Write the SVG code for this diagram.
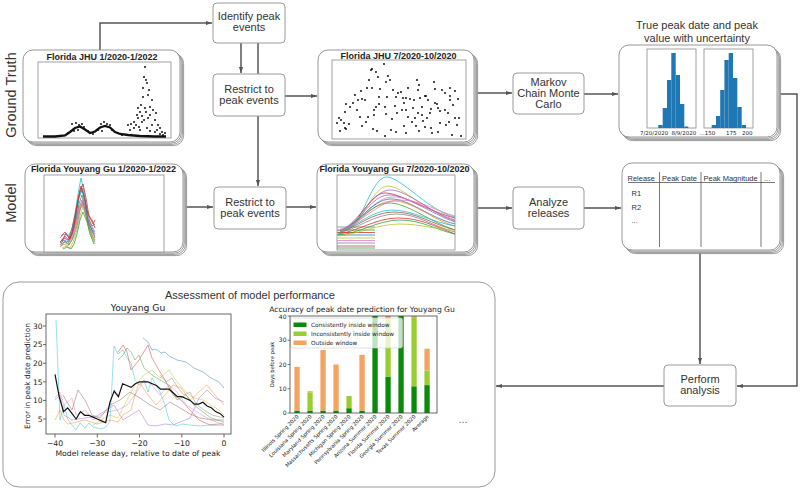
<svg xmlns="http://www.w3.org/2000/svg" width="800" height="490" viewBox="0 0 800 490">
<style>
.box{fill:#fff;stroke:#9a9a9a;stroke-width:1}
.card{fill:#fff;stroke:#8c8c8c;stroke-width:0.9}
.frame{fill:#fff;stroke:#8a8a8a;stroke-width:0.8}
.lbl{font-family:'Liberation Sans',Arial,sans-serif;font-size:11px;fill:#333;text-anchor:middle}
.side{font-family:'Liberation Sans',Arial,sans-serif;font-size:14.5px;fill:#333;text-anchor:middle}
.ttl{font-family:'Liberation Sans',Arial,sans-serif;font-size:9px;font-weight:bold;fill:#222;text-anchor:middle}
.tab{font-family:'Liberation Sans',Arial,sans-serif;font-size:7.5px;fill:#333}
.conn{fill:none;stroke:#555;stroke-width:1.5}
.arr{marker-end:url(#ah)}
.mpl{font-family:'DejaVu Sans',sans-serif;fill:#222}
.ax{fill:none;stroke:#444;stroke-width:0.8}
.dots{fill:none;stroke:#111;stroke-width:2;stroke-linecap:round}
.cl{fill:none;stroke-width:0.9;opacity:0.5}
.mc{fill:none;stroke-width:0.9;opacity:0.85}
.hb{fill:#1f77b4}
.dg{fill:#0a8a0a}
.lg{fill:#9acd32}
.og{fill:#f4a460}
</style>
<defs>
<marker id="ah" viewBox="0 0 10 10" refX="10" refY="5" markerWidth="6" markerHeight="6" markerUnits="userSpaceOnUse" orient="auto"><path d="M0,1.5 L10,5 L0,8.5 z" fill="#555"/></marker>
</defs>

<g id="connectors">
<path class="conn arr" d="M100,50 V23 H212"/>
<path class="conn arr" d="M241,43 V73"/>
<path class="conn arr" d="M258,43 V186"/>
<path class="conn arr" d="M285,96 H317"/>
<path class="conn arr" d="M474,93 H512"/>
<path class="conn arr" d="M584,94 H618"/>
<path class="conn arr" d="M777,94 H797 V386 H737"/>
<path class="conn arr" d="M183,207 H213"/>
<path class="conn arr" d="M286,207 H316"/>
<path class="conn arr" d="M474,208 H512"/>
<path class="conn arr" d="M584,208 H621"/>
<path class="conn arr" d="M700,252 V364"/>
<path class="conn arr" d="M664,386 H496"/>
</g>

<g id="label-ground-truth"><text class="side" transform="translate(16,95) rotate(-90)">Ground Truth</text></g>
<g id="label-model"><text class="side" transform="translate(16,203) rotate(-90)">Model</text></g>

<g id="identify">
<rect class="box" x="213" y="3" width="72" height="40" rx="4"/>
<text class="lbl" x="249" y="20">Identify peak</text>
<text class="lbl" x="249" y="31">events</text>
</g>

<g id="restrict-gt">
<rect class="box" x="213" y="74" width="72" height="42" rx="4"/>
<text class="lbl" x="249" y="92.5">Restrict to</text>
<text class="lbl" x="249" y="103.5">peak events</text>
</g>

<g id="restrict-model">
<rect class="box" x="214" y="187" width="72" height="42" rx="4"/>
<text class="lbl" x="250" y="205.5">Restrict to</text>
<text class="lbl" x="250" y="216.5">peak events</text>
</g>

<g id="mcmc">
<rect class="box" x="513" y="73" width="71" height="41" rx="4"/>
<text class="lbl" x="548.5" y="86">Markov</text>
<text class="lbl" x="548.5" y="97">Chain Monte</text>
<text class="lbl" x="548.5" y="108">Carlo</text>
</g>

<g id="analyze">
<rect class="box" x="513" y="187" width="71" height="42" rx="4"/>
<text class="lbl" x="548.5" y="205.5">Analyze</text>
<text class="lbl" x="548.5" y="216.5">releases</text>
</g>

<g id="perform">
<rect class="box" x="664" y="365" width="72" height="41" rx="4"/>
<text class="lbl" x="700" y="382.5">Perform</text>
<text class="lbl" x="700" y="393.5">analysis</text>
</g>

<g id="jhu-full">
<rect class="card" x="26.6" y="53.6" width="157" height="92" rx="10"/>
<rect class="card" x="25.4" y="52.4" width="157" height="92" rx="10"/>
<rect class="card" x="24.2" y="51.2" width="157" height="92" rx="10"/>
<rect class="card" x="23" y="50" width="157" height="92" rx="10"/>
<text class="ttl" x="102" y="60">Florida JHU 1/2020-1/2022</text>
<rect class="frame" x="38" y="62" width="133" height="76"/>
<polyline fill="none" stroke="#111" stroke-width="2.3" points="43,136.5 55,136.5 65,135.5 70,132 75,128 80,126.5 85,129.5 90,133 95,131.5 100,127.5 105,126 110,127.5 115,132 120,134 128,135 140,136 155,136.5 166,136.5"/>
<path class="dots" d="M72,124h0M76,123h0M79,125h0M82,124h0M84,127h0M78,130h0M74,131h0M88,131h0M101,124h0M104,122h0M107,124h0M110,125h0M98,130h0M112,130h0M102,131h0M68,133h0M93,134h0M118,133h0M122,135h0M128,125h0M131,124h0M134,122h0M130,130h0M136,125h0M145,67h0M144,77h0M146,80h0M147,83h0M143,97h0M148,95h0M141,105h0M145,108h0M150,107h0M153,110h0M140,112h0M146,112h0M142,116h0M148,118h0M150,115h0M155,120h0M138,118h0M134,128h0M152,125h0M158,125h0M160,128h0M147,128h0M150,131h0M155,132h0M162,132h0M163,135h0M140,130h0M142,122h0M144,120h0M138,108h0M152,100h0M149,90h0M143,88h0M137,115h0M156,113h0M139,127h0M157,130h0M165,133h0M160,134h0"/>
</g>

<g id="jhu-peak">
<rect class="card" x="321.6" y="53.6" width="156" height="92" rx="10"/>
<rect class="card" x="320.4" y="52.4" width="156" height="92" rx="10"/>
<rect class="card" x="319.2" y="51.2" width="156" height="92" rx="10"/>
<rect class="card" x="318" y="50" width="156" height="92" rx="10"/>
<text class="ttl" x="398.5" y="59">Florida JHU 7/2020-10/2020</text>
<rect class="frame" x="332" y="60" width="134" height="79"/>
<path class="dots" d="M371,70h0M372,69h0M384,64h0M376,72h0M378,77h0M388,76h0M390,80h0M369,80h0M367,88h0M361,91h0M372,88h0M380,89h0M386,82h0M393,90h0M355,95h0M358,100h0M362,99h0M365,100h0M346,104h0M353,103h0M350,107h0M345,112h0M357,110h0M379,104h0M379,97h0M387,97h0M396,97h0M401,92h0M408,88h0M410,99h0M404,103h0M406,98h0M417,80h0M419,85h0M418,90h0M426,96h0M428,100h0M422,107h0M434,82h0M435,89h0M442,90h0M445,93h0M450,96h0M455,91h0M458,99h0M450,100h0M453,105h0M437,104h0M438,108h0M440,111h0M431,109h0M418,113h0M415,118h0M406,110h0M402,110h0M395,106h0M397,113h0M392,119h0M386,114h0M385,107h0M376,107h0M374,110h0M368,117h0M366,122h0M374,115h0M408,117h0M412,122h0M416,126h0M423,121h0M425,127h0M431,128h0M432,133h0M438,132h0M446,125h0M449,122h0M455,118h0M457,125h0M452,135h0M440,123h0M422,115h0M427,118h0M360,117h0M339,118h0M341,120h0M337,123h0M344,123h0M345,128h0M349,124h0M340,131h0M362,126h0M346,129h0M404,126h0M419,131h0M406,133h0M391,130h0M396,132h0M385,136h0M377,131h0M373,129h0M414,100h0M398,93h0M403,98h0M425,96h0M420,98h0M435,103h0M445,110h0M448,113h0M413,108h0M430,113h0M461,136h0M459,118h0M450,88h0"/>
</g>

<g id="peak-dist">
<text class="lbl" x="697" y="29">True peak date and peak</text>
<text class="lbl" x="697" y="42">value with uncertainty</text>
<rect class="card" x="622.6" y="48.6" width="158" height="92" rx="10"/>
<rect class="card" x="621.4" y="47.4" width="158" height="92" rx="10"/>
<rect class="card" x="620.2" y="46.2" width="158" height="92" rx="10"/>
<rect class="card" x="619" y="45" width="158" height="92" rx="10"/>
<rect class="frame" x="647" y="49" width="49" height="79"/>
<rect class="frame" x="704" y="49" width="49" height="79"/>
<rect class="hb" x="658.3" y="125" width="4.4" height="3"/>
<rect class="hb" x="662.7" y="108" width="4.3" height="20"/>
<rect class="hb" x="667" y="80" width="4.3" height="48"/>
<rect class="hb" x="671.3" y="53" width="4.4" height="75"/>
<rect class="hb" x="675.7" y="75" width="4.3" height="53"/>
<rect class="hb" x="680" y="104" width="4.3" height="24"/>
<rect class="hb" x="684.3" y="126.5" width="4" height="1.5"/>
<rect class="hb" x="711.7" y="125" width="4.3" height="3"/>
<rect class="hb" x="716" y="116" width="4.2" height="12"/>
<rect class="hb" x="720.2" y="90" width="4.2" height="38"/>
<rect class="hb" x="724.4" y="60" width="4.3" height="68"/>
<rect class="hb" x="728.7" y="53" width="4.3" height="75"/>
<rect class="hb" x="733" y="78" width="4.3" height="50"/>
<rect class="hb" x="737.3" y="107" width="4.4" height="21"/>
<rect class="hb" x="741.7" y="125" width="4.3" height="3"/>
<g class="mpl" font-size="5.5">
<text x="640" y="134.5">7/20/2020</text>
<text x="671.5" y="134.5">8/9/2020</text>
<text x="699.5" y="134.5">...150</text>
<text x="726" y="134.5">175</text>
<text x="742" y="134.5">200</text>
</g>
</g>

<g id="yy-full">
<rect class="card" x="28.6" y="167.6" width="158" height="88" rx="10"/>
<rect class="card" x="27.4" y="166.4" width="158" height="88" rx="10"/>
<rect class="card" x="26.2" y="165.2" width="158" height="88" rx="10"/>
<rect class="card" x="25" y="164" width="158" height="88" rx="10"/>
<text class="ttl" x="103.5" y="171.5">Florida Youyang Gu 1/2020-1/2022</text>
<rect class="frame" x="44" y="175" width="120" height="77"/>
<path class="mc" stroke="#17becf" d="M60,238 L64,234 L68,236 L72,230 L75,214 L78,194 L81,178 L84,192 L87,210 L90,222 L94,232"/>
<path class="mc" stroke="#d62728" d="M60,242 L64,238 L68,240 L72,232 L75,218 L78,200 L81,186 L84,196 L88,214 L92,220 L95,228"/>
<path class="mc" stroke="#8c564b" d="M61,236 L65,232 L69,238 L72,228 L76,210 L79,195 L82,188 L85,200 L88,218 L92,226 L95,224"/>
<path class="mc" stroke="#2ca02c" d="M60,245 L64,242 L68,244 L72,236 L76,220 L79,204 L82,195 L85,206 L88,220 L92,230 L95,238"/>
<path class="mc" stroke="#9467bd" d="M61,244 L65,236 L69,240 L73,232 L76,222 L79,208 L82,200 L86,212 L89,226 L92,232 L95,236"/>
<path class="mc" stroke="#ff7f0e" d="M60,247 L64,244 L68,246 L72,240 L76,226 L79,212 L82,204 L86,216 L89,228 L93,236 L95,240"/>
<path class="mc" stroke="#e377c2" d="M61,240 L65,237 L69,242 L73,236 L76,224 L79,210 L83,198 L86,210 L89,222 L93,228 L95,232"/>
<path class="mc" stroke="#bcbd22" d="M62,248 L66,246 L70,248 L73,242 L77,230 L80,216 L83,206 L86,214 L89,230 L93,240 L95,244"/>
<path class="mc" stroke="#1f77b4" d="M60,243 L64,240 L68,242 L72,234 L76,216 L79,198 L82,190 L85,202 L88,222 L92,230 L95,234"/>
<path class="mc" stroke="#7f7f7f" d="M61,246 L65,241 L69,245 L73,238 L77,226 L80,210 L83,202 L86,216 L90,230 L93,238 L95,242"/>
<path class="mc" stroke="#2ca02c" d="M63,249 L67,247 L71,249 L74,244 L77,234 L80,220 L83,212 L87,222 L90,234 L94,244"/>
<path class="mc" stroke="#d62728" d="M62,241 L66,233 L70,239 L74,226 L77,206 L80,190 L83,184 L86,198 L89,216 L93,224 L95,220"/>
</g>

<g id="yy-peak">
<rect class="card" x="320.6" y="167.6" width="157" height="88" rx="10"/>
<rect class="card" x="319.4" y="166.4" width="157" height="88" rx="10"/>
<rect class="card" x="318.2" y="165.2" width="157" height="88" rx="10"/>
<rect class="card" x="317" y="164" width="157" height="88" rx="10"/>
<text class="ttl" x="394.5" y="171.5">Florida Youyang Gu 7/2020-10/2020</text>
<rect class="frame" x="337" y="175" width="118" height="75"/>
<path class="mc" stroke="#7f7f7f" d="M337,227 H375"/>
<path class="mc" stroke="#2ca02c" d="M337,230 H375"/>
<path class="mc" stroke="#d62728" d="M337,232.5 H375"/>
<path class="mc" stroke="#1f77b4" d="M337,235 H375"/>
<path class="mc" stroke="#bcbd22" d="M337,238 H375"/>
<path class="mc" stroke="#e377c2" d="M337,240.5 H375"/>
<path class="mc" stroke="#9467bd" d="M337,243 H375"/>
<path class="mc" stroke="#8c564b" d="M337,246 H375"/>
<path class="mc" stroke="#2ca02c" d="M337,248 H375"/>
<path class="mc" stroke="#17becf" stroke-width="1.3" d="M350,228 C362,222 372,178 386,177 S430,212 455,217"/>
<path class="mc" stroke="#bcbd22" stroke-width="1.3" d="M352,226 C364,218 374,186 388,186 S430,214 455,220"/>
<path class="mc" stroke="#d62728" d="M345,228 C360,222 370,194 384,193 S430,212 455,218"/>
<path class="mc" stroke="#9467bd" d="M347,229 C360,220 372,196 388,195 S432,214 455,222"/>
<path class="mc" stroke="#e377c2" d="M349,227 C362,220 374,198 392,197 S432,212 455,220"/>
<path class="mc" stroke="#1f77b4" d="M343,229 C358,224 372,200 390,199 S430,218 455,224"/>
<path class="mc" stroke="#ff7f0e" d="M345,230 C360,224 372,202 392,201 S432,220 455,226"/>
<path class="mc" stroke="#2ca02c" d="M340,231 C356,226 370,204 388,203 S430,222 455,230"/>
<path class="mc" stroke="#17becf" d="M342,230 C358,226 372,210 392,210 S432,222 455,226"/>
<path class="mc" stroke="#8c564b" d="M340,232 C356,228 372,212 394,212 S432,224 455,230"/>
<path class="mc" stroke="#7f7f7f" d="M338,233 C356,230 374,214 396,214 S432,226 455,232"/>
<path class="mc" stroke="#d62728" d="M338,234 C356,232 376,218 398,218 S434,226 455,234"/>
<path class="mc" stroke="#2ca02c" d="M338,235 C358,234 378,220 400,220 S436,230 455,234"/>
<path class="mc" stroke="#bcbd22" d="M339,236 C358,234 378,224 400,224 S436,230 455,230"/>
<path class="mc" stroke="#9467bd" d="M338,231 C356,228 372,190 390,190 S432,214 455,221"/>
<path class="mc" stroke="#e377c2" d="M340,229 C360,226 378,200 400,200 S438,212 455,216"/>
</g>

<g id="release-table">
<rect class="card" x="625.6" y="166.6" width="158" height="87" rx="10"/>
<rect class="card" x="624.4" y="165.4" width="158" height="87" rx="10"/>
<rect class="card" x="623.2" y="164.2" width="158" height="87" rx="10"/>
<rect class="card" x="622" y="163" width="158" height="87" rx="10"/>
<text class="tab" x="627.5" y="180.5">Release</text>
<text class="tab" x="662" y="180.5">Peak Date</text>
<text class="tab" x="703.5" y="180.5">Peak Magnitude</text>
<text class="tab" x="764" y="180.5" fill="#888">...</text>
<line x1="628" y1="182.5" x2="775" y2="182.5" stroke="#555" stroke-width="0.8"/>
<line x1="659.5" y1="172" x2="659.5" y2="247" stroke="#555" stroke-width="0.8"/>
<line x1="701" y1="172" x2="701" y2="247" stroke="#555" stroke-width="0.8"/>
<line x1="761" y1="172" x2="761" y2="247" stroke="#555" stroke-width="0.8"/>
<text class="tab" x="631.5" y="195.5">R1</text>
<text class="tab" x="631.5" y="209.5">R2</text>
<text class="tab" x="631.5" y="223" fill="#888">...</text>
</g>

<g id="assessment">
<rect class="box" x="3" y="282" width="492" height="205" rx="16"/>
<text class="lbl" x="250" y="299">Assessment of model performance</text>

<g id="line-chart">
<text class="mpl" font-size="9.2" x="138" y="311" text-anchor="middle">Youyang Gu</text>
<rect class="ax" x="46" y="314" width="185" height="120" fill="#fff"/>
<g stroke="#444" stroke-width="0.8">
<line x1="55" y1="434" x2="55" y2="437.5"/><line x1="97.3" y1="434" x2="97.3" y2="437.5"/><line x1="139.5" y1="434" x2="139.5" y2="437.5"/><line x1="181.8" y1="434" x2="181.8" y2="437.5"/><line x1="224" y1="434" x2="224" y2="437.5"/>
<line x1="43" y1="419" x2="46" y2="419"/><line x1="43" y1="400.4" x2="46" y2="400.4"/><line x1="43" y1="381.8" x2="46" y2="381.8"/><line x1="43" y1="363.2" x2="46" y2="363.2"/><line x1="43" y1="344.6" x2="46" y2="344.6"/><line x1="43" y1="326" x2="46" y2="326"/>
</g>
<g class="mpl" font-size="7.7" text-anchor="middle">
<text x="55" y="445.5">−40</text><text x="97.3" y="445.5">−30</text><text x="139.5" y="445.5">−20</text><text x="181.8" y="445.5">−10</text><text x="224" y="445.5">0</text>
</g>
<g class="mpl" font-size="7.5" text-anchor="end">
<text x="42.5" y="421.7">5</text><text x="42.5" y="403.1">10</text><text x="42.5" y="384.5">15</text><text x="42.5" y="365.9">20</text><text x="42.5" y="347.3">25</text><text x="42.5" y="328.7">30</text>
</g>
<text class="mpl" font-size="7.7" x="138" y="456" text-anchor="middle">Model release day, relative to date of peak</text>
<text class="mpl" font-size="7.4" text-anchor="middle" transform="translate(29.5,376) rotate(-90)">Error in peak date prediction</text>
<polyline class="cl" stroke="#17becf" points="56,320 60,420 64,405 68,420 72,425 76,430 80,423 85,428 89,423 93,427 97,428 101,429 106,427 110,421 114,346 118,354 123,350 127,358 131,363 135,380 139,385 144,380 148,392 152,378 156,385 160,392 165,405 169,420 173,424 177,426 182,424 190,425 200,426 210,425 224,423"/>
<polyline class="cl" stroke="#1f77b4" points="143,338 148,342 152,350 156,349 161,353 165,352 169,356 177,360 186,362 194,368 203,372 211,378 219,382 224,388"/>
<polyline class="cl" stroke="#d62728" points="118,352 123,345 127,352 131,370 139,360 148,345 152,358 160,372 165,380 173,395 181,400 190,410 199,420 210,425 224,425"/>
<polyline class="cl" stroke="#2ca02c" points="118,360 123,355 127,348 131,352 135,360 139,355 144,368 152,375 160,380 169,385 177,400 186,395 194,405 203,412 211,418 224,422"/>
<polyline class="cl" stroke="#ff7f0e" points="55,420 60,410 64,420 68,424 85,420 97,424 110,420 118,422 123,415 131,410 135,395 139,382 148,395 156,405 165,395 173,385 181,388 190,400 199,392 207,385 215,395 224,405"/>
<polyline class="cl" stroke="#9467bd" points="55,400 60,395 64,415 72,420 85,418 97,416 114,405 123,420 131,415 139,410 148,425 156,426 165,424 173,425 190,418 199,398 207,390 215,398 224,402"/>
<polyline class="cl" stroke="#e377c2" points="55,398 60,392 64,405 72,398 76,415 85,410 93,420 106,412 118,410 127,405 135,395 144,380 152,385 160,395 169,385 177,392 186,405 194,410 207,418 224,425"/>
<polyline class="cl" stroke="#bcbd22" points="93,425 101,420 110,415 118,418 127,400 135,385 144,375 152,370 160,378 169,370 177,382 186,392 194,398 203,400 211,405 219,410 224,415"/>
<polyline class="cl" stroke="#8c564b" points="63,395 67,402 72,410 78,390 85,400 92,415 100,418 110,405 120,400 130,392 140,398 150,405 160,410 170,402 180,408 190,414 200,418 212,420 224,420"/>
<polyline class="cl" stroke="#7f7f7f" points="160,375 166,382 172,378 178,388 184,395 190,392 196,404 204,410 212,415 224,418"/>
<polyline fill="none" stroke="#111" stroke-width="1.2" points="55,374.4 59.2,396.7 63.5,411.6 67.7,407.8 71.9,413.4 76.1,419 80.4,411.6 84.6,415.3 88.8,415.3 93,417.1 97.3,419 101.5,420.9 105.7,422.7 109.9,402.3 114.2,391.1 118.4,396.7 122.6,383.7 126.8,385.5 131.1,387.4 135.3,383.7 139.5,381.8 143.7,381.8 148,381.8 152.2,383.7 156.4,385.5 160.6,389.2 164.9,389.2 169.1,389.2 173.3,393 177.5,396.7 181.8,396.7 186,398.5 190.2,400.4 194.4,404.1 198.7,404.1 202.9,402.3 207.1,406 211.3,407.8 215.6,411.6 219.8,413.4 224,417.1"/>
</g>

<g id="bar-chart">
<text class="mpl" font-size="7.6" x="362" y="311.5" text-anchor="middle">Accuracy of peak date prediction for Youyang Gu</text>
<rect x="290" y="316" width="147" height="97" fill="#fff"/>
<rect class="dg" x="294.4" y="410.6" width="5.3" height="2.4"/><rect class="og" x="294.4" y="366.9" width="5.3" height="43.7"/>
<rect class="dg" x="307.4" y="410.6" width="5.3" height="2.4"/><rect class="lg" x="307.4" y="392.4" width="5.3" height="18.2"/><rect class="og" x="307.4" y="391.2" width="5.3" height="1.2"/>
<rect class="dg" x="320.4" y="410.6" width="5.3" height="2.4"/><rect class="og" x="320.4" y="350" width="5.3" height="60.6"/>
<rect class="dg" x="333.4" y="410.6" width="5.3" height="2.4"/><rect class="og" x="333.4" y="364.5" width="5.3" height="46.1"/>
<rect class="dg" x="346.4" y="408.2" width="5.3" height="4.8"/><rect class="lg" x="346.4" y="396" width="5.3" height="12.2"/>
<rect class="dg" x="359.4" y="410.6" width="5.3" height="2.4"/><rect class="og" x="359.4" y="354.8" width="5.3" height="55.8"/>
<rect class="dg" x="372.4" y="316" width="5.3" height="97"/>
<rect class="dg" x="385.4" y="376.6" width="5.3" height="36.4"/><rect class="lg" x="385.4" y="319.6" width="5.3" height="57"/><rect class="og" x="385.4" y="316" width="5.3" height="3.6"/>
<rect class="dg" x="398.4" y="316" width="5.3" height="97"/>
<rect class="dg" x="411.4" y="386.3" width="5.3" height="26.7"/><rect class="lg" x="411.4" y="317.2" width="5.3" height="69.1"/><rect class="og" x="411.4" y="316" width="5.3" height="1.2"/>
<rect class="dg" x="424.4" y="385.1" width="5.3" height="27.9"/><rect class="lg" x="424.4" y="370.6" width="5.3" height="14.5"/><rect class="og" x="424.4" y="348.7" width="5.3" height="21.9"/>
<rect x="290.5" y="318" width="112" height="30" rx="2" fill="#fff" fill-opacity="0.75" stroke="#ccc" stroke-width="0.6"/>
<rect class="dg" x="293.5" y="322.5" width="13" height="4.5"/>
<rect class="lg" x="293.5" y="331.5" width="13" height="4.5"/>
<rect class="og" x="293.5" y="340.5" width="13" height="4.5"/>
<g class="mpl" font-size="5.8">
<text x="311" y="327">Consistently inside window</text>
<text x="311" y="336">Inconsistently inside window</text>
<text x="311" y="345">Outside window</text>
</g>
<rect class="ax" x="290" y="316" width="147" height="97"/>
<g stroke="#444" stroke-width="0.7">
<line x1="287.5" y1="316" x2="290" y2="316"/><line x1="287.5" y1="340.25" x2="290" y2="340.25"/><line x1="287.5" y1="364.5" x2="290" y2="364.5"/><line x1="287.5" y1="388.75" x2="290" y2="388.75"/><line x1="287.5" y1="413" x2="290" y2="413"/>
</g>
<g class="mpl" font-size="6" text-anchor="end">
<text x="286.5" y="318.6">40</text><text x="286.5" y="342.4">30</text><text x="286.5" y="366.7">20</text><text x="286.5" y="391">10</text><text x="286.5" y="415.2">0</text>
</g>
<text class="mpl" font-size="5.2" text-anchor="middle" transform="translate(274,364.5) rotate(-90)">Days before peak</text>
<g class="mpl" font-size="5.2" text-anchor="end">
<text transform="translate(299,417) rotate(-45)">Illinois Spring 2020</text>
<text transform="translate(312,417) rotate(-45)">Louisiana Spring 2020</text>
<text transform="translate(325,417) rotate(-45)">Maryland Spring 2020</text>
<text transform="translate(338,417) rotate(-45)">Massachusetts Spring 2020</text>
<text transform="translate(351,417) rotate(-45)">Michigan Spring 2020</text>
<text transform="translate(364,417) rotate(-45)">Pennsylvania Spring 2020</text>
<text transform="translate(377,417) rotate(-45)">Arizona Summer 2020</text>
<text transform="translate(390,417) rotate(-45)">Florida Summer 2020</text>
<text transform="translate(403,417) rotate(-45)">Georgia Summer 2020</text>
<text transform="translate(416,417) rotate(-45)">Texas Summer 2020</text>
<text transform="translate(429,417) rotate(-45)">Average</text>
</g>
</g>
<text x="463" y="423" font-family="'Liberation Sans',Arial,sans-serif" font-size="11" fill="#666" text-anchor="middle">...</text>
</g>
</svg>
